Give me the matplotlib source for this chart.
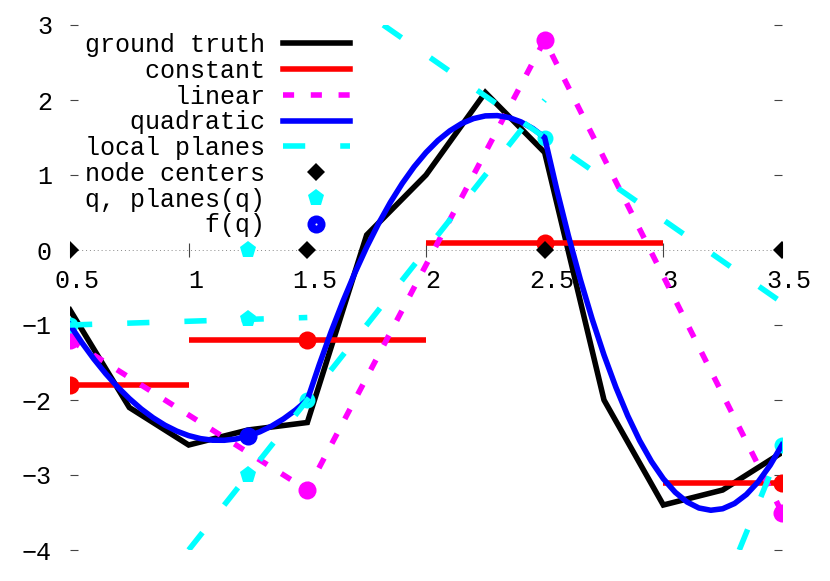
import numpy as np
import matplotlib
matplotlib.use("Agg")
import matplotlib.pyplot as plt
import matplotlib.transforms as mtransforms
from matplotlib.lines import Line2D

plt.rcParams['font.family'] = ['Liberation Mono', 'DejaVu Sans Mono']
plt.rcParams['font.size'] = 18

#########
# DATA
#########

# ground truth polyline
truth_x = [0.5, 0.75, 1.0, 1.25, 1.5, 1.75, 2.0, 2.25, 2.5, 2.75, 3.0, 3.25, 3.5]
truth_y = [-0.8, -2.1, -2.6, -2.4, -2.3, 0.2, 1.0, 2.1, 1.3, -2.0, -3.4, -3.2, -2.7]

# node centers and per-node models
node_x = [0.5, 1.5, 2.5, 3.5]
const_y = [-1.8, -1.2, 0.1, -3.1]
const_lo = [0.0, 1.0, 2.0, 3.0]
const_hi = [1.0, 2.0, 3.0, 4.0]
linear_y = [-1.2, -3.2, 2.8, -3.5]
plane_y = [-1.0, -2.0, 1.5, -2.6]

# visible pieces of the local planes (start -> end)
plane_x0 = [0.5, 1.0, 1.82, 3.32]
plane_x1 = [1.5, 2.5, 3.5, 3.5]
plane_y0 = [-1.0, -4.0, 3.0, -4.0]
plane_y1 = [-0.9, 2.0, -0.7, -2.6]

# query point
q = 1.25
planes_q = [-0.925, -3.0]
f_q = -2.48

# quadratic curve, sampled every 0.05 from 0.5 to 3.5
quad_x = np.linspace(0.5, 3.5, 61)
quad_y = [-1.000, -1.235, -1.451, -1.647, -1.824, -1.981, -2.119, -2.237, -2.336,
          -2.415, -2.475, -2.515, -2.536, -2.537, -2.519, -2.481, -2.424, -2.347,
          -2.251, -2.135, -2.000,
          -1.531, -1.092, -0.685, -0.308, 0.038, 0.352, 0.636, 0.888, 1.110, 1.300,
          1.460, 1.588, 1.686, 1.752, 1.788, 1.792, 1.766, 1.708, 1.620, 1.500,
          0.820, 0.190, -0.390, -0.920, -1.400, -1.830, -2.210, -2.540, -2.820,
          -3.050, -3.230, -3.360, -3.440, -3.470, -3.450, -3.380, -3.260, -3.090,
          -2.870, -2.600]

xtick_vals = [0.5, 1, 1.5, 2, 2.5, 3, 3.5]
xtick_labels = ['0.5', '1', '1.5', '2', '2.5', '3', '3.5']
ytick_vals = [-4, -3, -2, -1, 0, 1, 2, 3]

#########
# PLOT
#########

W, H = 830, 581
fig = plt.figure(figsize=(W / 100, H / 100), dpi=100)
ax = fig.add_axes([70 / W, 1 - 550 / H, 712 / W, 525 / H])
ax.set_xlim(0.5, 3.5)
ax.set_ylim(-4, 3)

lw = 4
ax.axhline(0, color='#888888', lw=0.7, ls=(0, (1, 3)), zorder=1)

h_truth, = ax.plot(truth_x, truth_y, color='black', lw=lw, solid_joinstyle='miter', zorder=2)

ax.hlines(const_y, const_lo, const_hi, colors='red', lw=lw, capstyle='butt', zorder=3)
ax.plot(node_x, const_y, 'o', color='red', ms=13, mew=0, zorder=3)
h_const = Line2D([], [], color='red', lw=lw)

h_lin, = ax.plot(node_x, linear_y, color='#ff00ff', lw=lw, ls=(0, (2, 3)), zorder=4)
ax.plot(node_x, linear_y, 'o', color='#ff00ff', ms=13, mew=0, zorder=4)

ax.plot(node_x, plane_y, 'o', color='#00ffff', ms=11.5, mew=0, zorder=4.5)
h_quad, = ax.plot(quad_x, quad_y, color='blue', lw=lw, zorder=5)

for i in range(len(plane_x0)):
    h_plane, = ax.plot([plane_x0[i], plane_x1[i]], [plane_y0[i], plane_y1[i]],
                       color='#00ffff', lw=lw, ls=(0, (4, 6.3)), zorder=6)

h_nodes, = ax.plot(node_x, [0] * len(node_x), 'D', color='black', ms=9, mew=0, zorder=7)
h_pq, = ax.plot([q] * 3, [0] + planes_q, 'p', color='#00ffff', ms=12.5, mew=0, zorder=7)
h_fq, = ax.plot([q], [f_q], 'o', color='blue', ms=13, mew=0, zorder=8)
h_fq_dot = Line2D([], [], marker='o', color='white', ms=1.5, mew=0, ls='none')

# axes styling: no border, x axis through zero
for s in ax.spines.values():
    s.set_visible(False)
ax.spines['bottom'].set_position(('data', 0))

ax.set_xticks(xtick_vals)
ax.set_xticklabels(xtick_labels)
ax.set_yticks(ytick_vals)
ax.tick_params(axis='x', direction='inout', length=10, width=0.8, color='#444444', pad=9)
ax.tick_params(axis='y', direction='in', length=6, width=0.8, color='#444444',
               right=True, pad=13)

shift = mtransforms.ScaledTranslation(7 / 100, 0, fig.dpi_scale_trans)
for lab in ax.get_xticklabels():
    lab.set_transform(lab.get_transform() + shift)

labels = ['ground truth', 'constant', 'linear', 'quadratic', 'local planes',
          'node centers', 'q, planes(q)', 'f(q)']
labels = [s.rjust(12) for s in labels]
handles = [h_truth, h_const, h_lin, h_quad, h_plane, h_nodes, h_pq, (h_fq, h_fq_dot)]
ax.legend(handles, labels, loc='upper right', bbox_to_anchor=(350 / W, 1 - 33 / H),
          bbox_transform=fig.transFigure, frameon=False, markerfirst=False,
          handlelength=2.7, handletextpad=0.7, labelspacing=0.07,
          borderpad=0, borderaxespad=0, numpoints=1)

fig.savefig('out.png', dpi=100)
